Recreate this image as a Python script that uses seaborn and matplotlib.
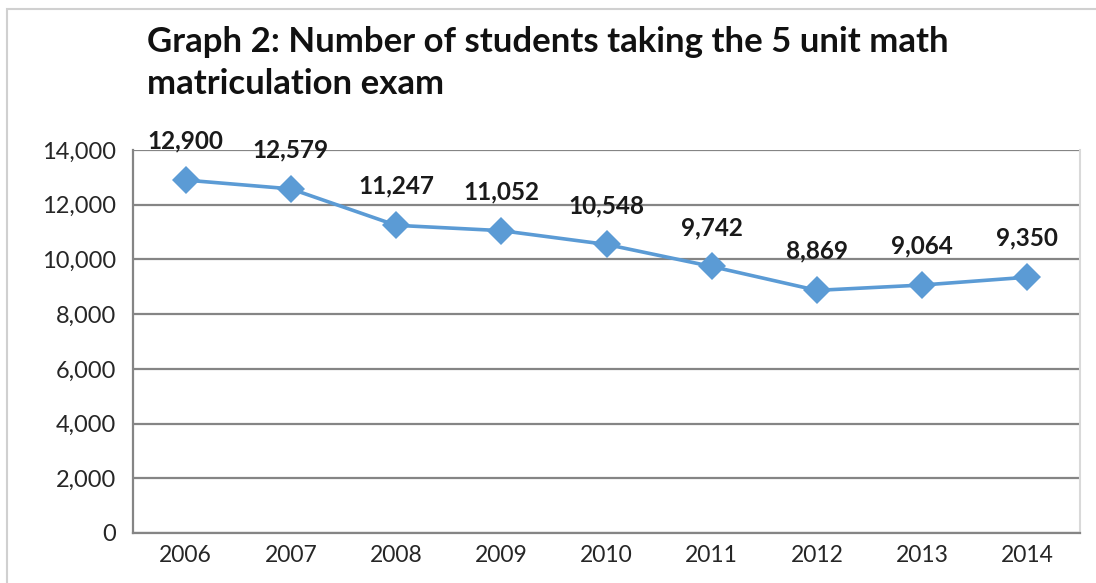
import matplotlib.pyplot as plt
import matplotlib.patches as mpatches
import seaborn as sns
from matplotlib.ticker import FuncFormatter, FixedLocator

years = [2006, 2007, 2008, 2009, 2010, 2011, 2012, 2013, 2014]
students = [12900, 12579, 11247, 11052, 10548, 9742, 8869, 9064, 9350]
y_ticks = [0, 2000, 4000, 6000, 8000, 10000, 12000, 14000]
title = "Graph 2: Number of students taking the 5 unit math\nmatriculation exam"

sns.set_style("white")
plt.rcParams["font.family"] = ["Lato", "DejaVu Sans"]

fig = plt.figure(figsize=(10.96, 5.83), dpi=100)
ax = fig.add_axes([0.1214, 0.0858, 0.864, 0.6569])

# light outer chart border
fig.patches.append(mpatches.Rectangle((7 / 1096, -0.01), 1.1, 1 - 9 / 583 + 0.01,
                                      transform=fig.transFigure, fill=False,
                                      edgecolor="#d0d0d0", linewidth=1.5))

for v in y_ticks:
    ax.axhline(v, color="#858585", linewidth=1.6, zorder=1)

sns.lineplot(x=years, y=students, ax=ax, color="#5B9BD5", linewidth=2.6,
             marker="D", markersize=14, markeredgewidth=0, zorder=3)

for x, v in zip(years, students):
    ax.annotate(f"{v:,}", (x, v), xytext=(0, 39), textcoords="offset pixels",
                ha="center", va="center", fontsize=17.5, fontweight="bold",
                color="#1a1a1a", zorder=4)

ax.set_xlim(years[0] - 0.5, years[-1] + 0.5)
ax.set_ylim(0, 14000)
ax.set_yticks(y_ticks)
ax.yaxis.set_major_formatter(FuncFormatter(lambda v, p: f"{int(v):,}"))

ax.xaxis.set_major_locator(FixedLocator([y - 0.5 for y in years] + [years[-1] + 0.5]))
ax.xaxis.set_minor_locator(FixedLocator(years))
ax.set_xticklabels([])
ax.set_xticklabels([str(y) for y in years], minor=True)
ax.tick_params(axis="x", which="major", length=8, width=1.5, color="#858585", direction="out")
ax.tick_params(axis="x", which="minor", length=0, pad=9, labelsize=16.5, labelcolor="#262626")
ax.tick_params(axis="y", length=8, width=1.5, color="#858585", direction="out",
               labelsize=17, labelcolor="#262626", pad=4)

for s in ["left", "bottom"]:
    ax.spines[s].set_color("#858585")
    ax.spines[s].set_linewidth(1.6)
ax.spines["top"].set_visible(False)
ax.spines["right"].set_color("#d9d9d9")
ax.spines["right"].set_linewidth(1.5)

fig.text(147 / 1096, 1 - 26 / 583, title, ha="left", va="top", fontsize=25,
         fontweight="bold", color="#111111", linespacing=1.4)

plt.savefig("out.png", dpi=100)
plt.close()
